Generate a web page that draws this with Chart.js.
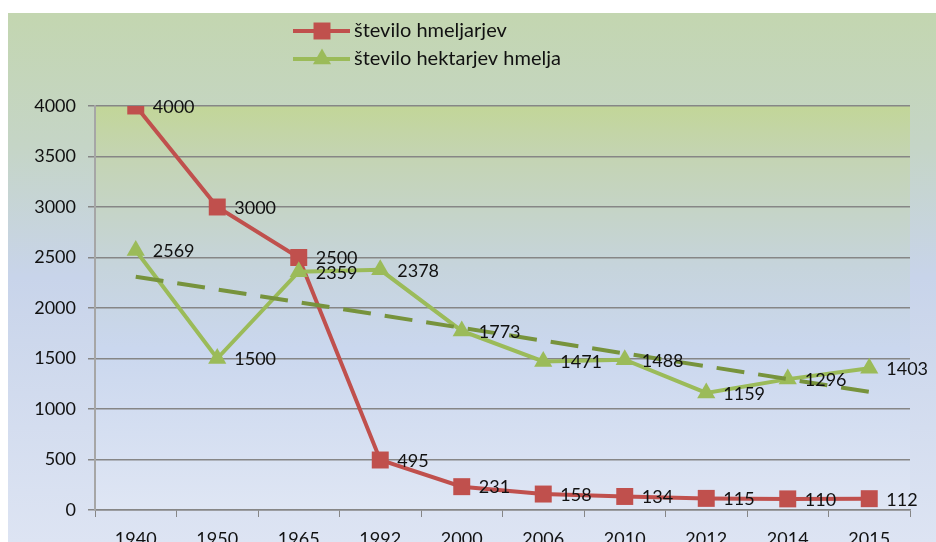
<!DOCTYPE html>
<html>
<head>
<meta charset="utf-8">
<script src="https://cdn.jsdelivr.net/npm/chart.js@4.4.1/dist/chart.umd.min.js"></script>
<style>
  html, body { margin: 0; padding: 0; background: #ffffff; }
  #wrap { width: 936px; height: 542px; position: relative; }
</style>
</head>
<body>
<div id="wrap"><canvas id="graf" width="936" height="542"></canvas></div>
<script>
// podatki
const leta = ['1940', '1950', '1965', '1992', '2000', '2006', '2010', '2012', '2014', '2015'];
const hmeljarji = [4000, 3000, 2500, 495, 231, 158, 134, 115, 110, 112];
const hektarji = [2569, 1500, 2359, 2378, 1773, 1471, 1488, 1159, 1296, 1403];
// linearni trend (odčitano s slike: začetek in konec)
const trend = [2310, null, null, null, null, null, null, null, null, 1170];
const oznakeY = [0, 500, 1000, 1500, 2000, 2500, 3000, 3500, 4000];

const RDECA = '#c0504d';
const ZELENA = '#9bbb59';
const TEMNOZELENA = '#77933c';
const PISAVA = 'Lato, "Open Sans", sans-serif';

// ozadje celotne slike in ozadje risalne površine
const ozadje = {
    id: 'ozadje',
    beforeDraw(chart) {
        const ctx = chart.ctx;
        const a = chart.chartArea;
        ctx.save();
        let g = ctx.createLinearGradient(0, 13, 0, 542);
        g.addColorStop(0, '#c3d6b0');
        g.addColorStop(0.25, '#c5d5c6');
        g.addColorStop(0.5, '#c8d4ea');
        g.addColorStop(1, '#dde4f3');
        ctx.fillStyle = g;
        ctx.fillRect(8, 13, 928, 529);

        g = ctx.createLinearGradient(0, a.top, 0, a.bottom);
        g.addColorStop(0, '#c2d698');
        g.addColorStop(0.12, '#c4d4b2');
        g.addColorStop(0.4, '#c6d4dc');
        g.addColorStop(0.6, '#cad7ee');
        g.addColorStop(1, '#dfe6f4');
        ctx.fillStyle = g;
        ctx.fillRect(a.left, a.top, a.right - a.left, a.bottom - a.top);
        ctx.restore();
    }
};

// vrednosti ob točkah
const vrednosti = {
    id: 'vrednosti',
    afterDatasetsDraw(chart) {
        const ctx = chart.ctx;
        ctx.save();
        ctx.font = '18px ' + PISAVA;
        ctx.fillStyle = '#111111';
        ctx.textAlign = 'left';
        ctx.textBaseline = 'middle';
        [0, 1].forEach(i => {
            const meta = chart.getDatasetMeta(i);
            const data = chart.data.datasets[i].data;
            meta.data.forEach((pt, j) => {
                ctx.fillText(String(data[j]), pt.x + 17, pt.y + 1);
            });
        });
        ctx.restore();
    }
};

// legenda: črta z oznako
const legenda = {
    id: 'legenda',
    afterDraw(chart) {
        const ctx = chart.ctx;
        const vrstice = [
            { ds: chart.data.datasets[0], y: 31 },
            { ds: chart.data.datasets[1], y: 59 }
        ];
        ctx.save();
        vrstice.forEach(v => {
            ctx.strokeStyle = v.ds.borderColor;
            ctx.lineWidth = v.ds.borderWidth;
            ctx.beginPath();
            ctx.moveTo(293, v.y);
            ctx.lineTo(350, v.y);
            ctx.stroke();
            ctx.fillStyle = v.ds.pointBackgroundColor;
            Chart.helpers.drawPoint(ctx, {
                pointStyle: v.ds.pointStyle,
                radius: v.ds.pointRadius,
                borderWidth: 0,
                rotation: 0
            }, 322, v.y);
            ctx.fillStyle = '#111111';
            ctx.font = '20px ' + PISAVA;
            ctx.textAlign = 'left';
            ctx.textBaseline = 'middle';
            ctx.fillText(v.ds.label, 354, v.y);
        });
        ctx.restore();
    }
};

new Chart(document.getElementById('graf'), {
    type: 'line',
    data: {
        labels: leta,
        datasets: [
            {
                label: 'število hmeljarjev',
                data: hmeljarji,
                borderColor: RDECA,
                backgroundColor: RDECA,
                pointBackgroundColor: RDECA,
                pointBorderWidth: 0,
                borderWidth: 4,
                pointStyle: 'rect',
                pointRadius: 12,
                tension: 0,
                order: 2
            },
            {
                label: 'število hektarjev hmelja',
                data: hektarji,
                borderColor: ZELENA,
                backgroundColor: ZELENA,
                pointBackgroundColor: ZELENA,
                pointBorderWidth: 0,
                borderWidth: 4,
                pointStyle: 'triangle',
                pointRadius: 10.5,
                tension: 0,
                order: 1
            },
            {
                label: 'trend',
                data: trend,
                borderColor: TEMNOZELENA,
                borderWidth: 4,
                borderDash: [28, 14],
                pointRadius: 0,
                spanGaps: true,
                tension: 0,
                order: 0
            }
        ]
    },
    options: {
        responsive: false,
        animation: false,
        layout: {
            padding: { left: 0, right: 26, top: 106, bottom: 0 }
        },
        plugins: {
            legend: { display: false },
            tooltip: { enabled: false }
        },
        scales: {
            x: {
                offset: true,
                grid: {
                    offset: true,
                    drawOnChartArea: false,
                    drawTicks: true,
                    tickLength: 7,
                    color: '#868686'
                },
                border: { color: '#868686', width: 1.5 },
                ticks: {
                    color: '#111111',
                    font: { family: PISAVA, size: 18 },
                    padding: 11,
                    maxRotation: 0
                },
                afterFit: s => { s.height = 32; }
            },
            y: {
                min: 0,
                max: 4000,
                afterBuildTicks: s => { s.ticks = oznakeY.map(v => ({ value: v })); },
                grid: {
                    color: '#868686',
                    lineWidth: 1.5,
                    tickLength: 7
                },
                border: { color: '#a6a6a6', width: 2 },
                ticks: {
                    color: '#111111',
                    font: { family: PISAVA, size: 18 },
                    padding: 12,
                    callback: v => String(v)
                },
                afterFit: s => { s.width = 95; }
            }
        }
    },
    plugins: [ozadje, vrednosti, legenda]
});
</script>
</body>
</html>
